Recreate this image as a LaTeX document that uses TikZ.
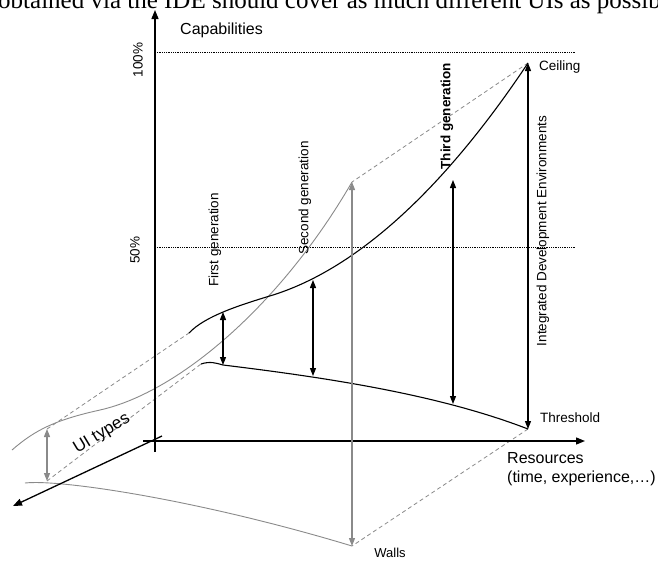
\documentclass[tikz,border=0pt]{standalone}
\usepackage{fontspec}
\setmainfont{Liberation Sans}
\newfontfamily\serifface{Liberation Serif}
\usetikzlibrary{arrows.meta}
\definecolor{curvegray}{RGB}{138,138,138}
\begin{document}
\begin{tikzpicture}[x=1pt,y=-1pt,
  axisline/.style={line width=1.3pt,-{Triangle[length=9pt,width=7pt]}},
  dblarrow/.style={line width=1.2pt,{Triangle[length=8pt,width=6pt]}-{Triangle[length=8pt,width=6pt]}},
  gdblarrow/.style={line width=1.1pt,draw=curvegray,{Triangle[length=8pt,width=6pt]}-{Triangle[length=8pt,width=6pt]}},
  blackcurve/.style={line width=1.1pt},
  graycurve/.style={line width=0.9pt,draw=curvegray},
  depthline/.style={line width=0.8pt,draw=curvegray,dash pattern=on 4pt off 3pt},
  levelline/.style={line width=0.6pt,dash pattern=on 0.7pt off 1.1pt},
  lbl/.style={inner sep=0pt,font=\fontsize{13.5}{16}\selectfont},
  biglbl/.style={inner sep=0pt,font=\fontsize{16}{19}\selectfont},
]
\useasboundingbox (0,0) rectangle (658,560);

% cut-off text line of the page above
\node[inner sep=0pt,anchor=base west,font=\serifface\fontsize{25}{30}\selectfont] (pagetext) at (-2,8)
  {obtained via the IDE should cover as much different UIs as possible};

% coordinates
\coordinate (vtop) at (155,10);
\coordinate (vbot) at (155,452);
\coordinate (hstart) at (143,441);
\coordinate (hend) at (585,441);
\coordinate (uistart) at (162,436);
\coordinate (uiend) at (13,506);
\coordinate (ceil) at (528,63);
\coordinate (thr) at (528,429);
\coordinate (wtop) at (352,182);
\coordinate (wbot) at (352,546);
\coordinate (uitop) at (47,429);
\coordinate (uibot) at (47,481);
\coordinate (capstart) at (189,333);
\coordinate (thrstart) at (201,364);
\coordinate (g1t) at (223,312);
\coordinate (g1b) at (223,365);
\coordinate (g2t) at (313,280);
\coordinate (g2b) at (313,376);
\coordinate (g3t) at (453,180);
\coordinate (g3b) at (453,404);
\coordinate (capmid) at (273,295);
\coordinate (graymid) at (100,410);
\coordinate (graystart) at (12,450);
\coordinate (lowgraystart) at (25,483);
\coordinate (l100a) at (155,52);
\coordinate (l100b) at (575,52);
\coordinate (l50a) at (155,247);
\coordinate (l50b) at (575,247);

% level lines
\draw[levelline] (l100a) -- (l100b);
\draw[levelline] (l50a) -- (l50b);

% depth (dashed) lines
\draw[depthline] (ceil) -- (wtop);
\draw[depthline] (thr) -- (wbot);
\draw[depthline] (uitop) -- (capstart);
\draw[depthline] (uibot) -- (thrstart);

% gray curves (walls)
\draw[graycurve] (graystart) .. controls (35,430) and (55,420) .. (graymid)
  .. controls (180,392) and (282,303) .. (wtop);
\draw[graycurve] (lowgraystart) .. controls (60,479) and (200,500) .. (wbot);

% black curves
\draw[blackcurve] (capstart) .. controls (205,316) and (240,305) .. (capmid)
  .. controls (330,277) and (420,225) .. (ceil);
\draw[blackcurve] (thrstart) .. controls (210,361) and (216,363) .. (g1b)
  .. controls (330,378) and (440,395) .. (thr);

% axes
\draw[axisline] (vbot) -- (vtop);
\draw[axisline] (hstart) -- (hend);
\draw[axisline] (uistart) -- (uiend);

% double arrows
\draw[dblarrow] (g1b) -- (g1t);
\draw[dblarrow] (g2b) -- (g2t);
\draw[dblarrow] (g3b) -- (g3t);
\draw[dblarrow] (thr) -- (ceil);
\draw[gdblarrow] (wbot) -- (wtop);
\draw[gdblarrow] (uibot) -- (uitop);

% labels
\node[biglbl,anchor=west] (capab) at (180,30) {Capabilities};
\node[lbl,rotate=90] (p100) at (138,60) {100\%};
\node[lbl,rotate=90] (p50) at (135,250) {50\%};
\node[lbl,anchor=west] (ceillbl) at (539,67) {Ceiling};
\node[lbl,anchor=west] (thrlbl) at (540,418) {Threshold};
\node[lbl,font=\fontsize{13}{16}\selectfont] (walllbl) at (390,553) {Walls};
\node[lbl,rotate=90] (gen1) at (215,240) {First generation};
\node[lbl,rotate=90] (gen2) at (305,198) {Second generation};
\node[lbl,rotate=90,font=\fontsize{13.5}{16}\selectfont\bfseries] (gen3) at (447,116) {Third generation};
\node[lbl,rotate=90] (ide) at (543,231) {Integrated Development Environments};
\node[inner sep=0pt,rotate=31,font=\fontsize{17}{20}\selectfont] (uitypes) at (102,434) {UI types};
\node[biglbl,anchor=west] (res1) at (507,458) {Resources};
\node[biglbl,anchor=west] (res2) at (507,478) {(time, experience,…)};
\end{tikzpicture}
\end{document}
